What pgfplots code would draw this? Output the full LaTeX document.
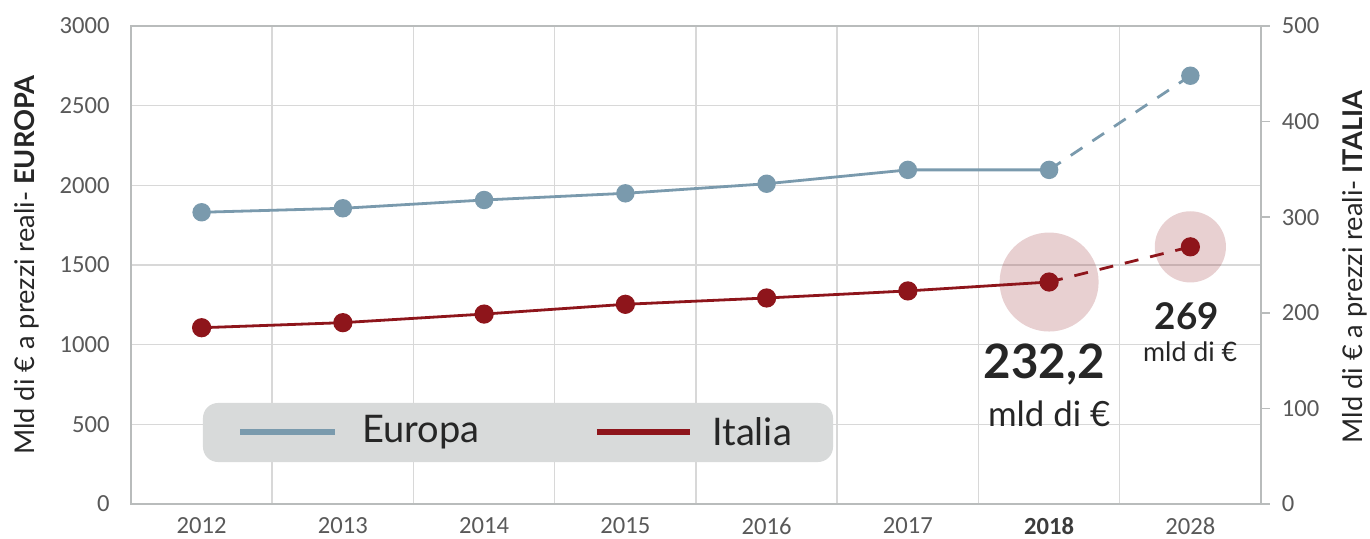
\documentclass[border=0pt]{standalone}
\usepackage{pgfplots}
\pgfplotsset{compat=1.18}
\usepackage{fontspec}
\setmainfont{Lato}
\newfontfamily\tickfont{Carlito}
\definecolor{europa}{RGB}{122,154,173}
\definecolor{italia}{RGB}{142,21,27}
\definecolor{gridc}{RGB}{216,216,216}
\definecolor{axisc}{RGB}{185,188,188}
\definecolor{tickc}{RGB}{89,89,89}
\definecolor{legbg}{RGB}{216,218,218}
\definecolor{txt}{RGB}{38,38,38}
\begin{document}
\begin{tikzpicture}
\path[use as bounding box] (-65.5pt,-17pt) rectangle (619.5pt,252pt);
\begin{axis}[
  at={(0,0)}, anchor=south west,
  scale only axis, width=565pt, height=239pt,
  xmin=-0.5, xmax=7.5, ymin=0, ymax=3000,
  xtick={0,...,7},
  xticklabels={2012,2013,2014,2015,2016,2017,{\textcolor{txt!90}{\bfseries 2018}},2028},
  minor xtick={0.5,1.5,...,6.5},
  ytick={0,500,...,3000},
  xminorgrids, ymajorgrids,
  grid style={draw=gridc, line width=0.75pt},
  minor grid style={draw=gridc, line width=0.75pt},
  axis line style={draw=axisc, line width=0.75pt},
  major tick length=0pt, minor tick length=0pt,
  /pgf/number format/assume math mode=true,
  /pgf/number format/1000 sep={},
  ticklabel style={font=\tickfont\fontsize{12.3}{14}\selectfont, text=tickc},
  yticklabel style={inner sep=0pt, xshift=-10.5pt, anchor=east},
  xticklabel style={inner sep=0pt, yshift=-6.5pt, anchor=north},
  ylabel={Mld di € a prezzi reali- \textbf{EUROPA}},
  ylabel style={at={(axis description cs:-0.092,0.5)}, anchor=center, rotate=0,
    font=\fontsize{13.6}{16}\selectfont, text=txt},
  clip=false,
]
\fill[legbg, rounded corners=7.5pt] (axis cs:0.0097,263.6) rectangle (axis cs:4.47,634);
\draw[europa, line width=3pt] (axis cs:0.272,451.9) -- (axis cs:0.944,451.9);
\node[anchor=west, inner sep=0pt, text=txt, font=\fontsize{19}{22}\selectfont] at (axis cs:1.135,451.9) {Europa};
\draw[italia, line width=3pt] (axis cs:2.799,451.9) -- (axis cs:3.458,451.9);
\node[anchor=west, inner sep=0pt, text=txt, font=\fontsize{19}{22}\selectfont] at (axis cs:3.613,451.9) {Italia};
\addplot[europa, line width=1.4pt, mark=*, mark size=3.9pt, mark options={europa}]
  coordinates {(0,1831)(1,1856)(2,1908)(3,1950)(4,2010)(5,2097)(6,2097)};
\addplot[europa, line width=1.4pt, dash pattern=on 7pt off 6pt, mark=*, mark size=3.9pt, mark indices={2}, mark options={solid, europa}]
  coordinates {(6,2097)(7,2688)};
\end{axis}
\begin{axis}[
  at={(0,0)}, anchor=south west,
  scale only axis, width=565pt, height=239pt,
  xmin=-0.5, xmax=7.5, ymin=0, ymax=500,
  axis x line=none,
  axis y line*=right,
  ytick={0,100,...,500},
  axis line style={draw=axisc, line width=0.75pt, -},
  tick style={draw=axisc, line width=0.75pt},
  tick align=outside, major tick length=4.5pt,
  /pgf/number format/assume math mode=true,
  ticklabel style={font=\tickfont\fontsize{12.3}{14}\selectfont, text=tickc},
  yticklabel style={inner sep=0pt, anchor=west, xshift=5.8pt},
  ylabel={Mld di € a prezzi reali- \textbf{ITALIA}},
  ylabel style={at={(axis description cs:1.0832,0.496)}, anchor=center, rotate=0,
    font=\fontsize{13.6}{16}\selectfont, text=txt},
  clip=false,
]
\addplot[only marks, color=italia, mark=*, mark size=24.75pt, mark options={draw opacity=0, fill=italia, fill opacity=0.2}]
  coordinates {(6,232.2)};
\addplot[only marks, color=italia, mark=*, mark size=17.8pt, mark options={draw opacity=0, fill=italia, fill opacity=0.2}]
  coordinates {(7,269)};
\addplot[italia, line width=1.4pt, mark=*, mark size=4.1pt, mark options={italia}]
  coordinates {(0,184.4)(1,189.7)(2,198.7)(3,208.9)(4,215.5)(5,222.9)(6,232.2)};
\addplot[italia, line width=1.4pt, dash pattern=on 7pt off 6pt, mark=*, mark size=4.1pt, mark indices={2}, mark options={solid, italia}]
  coordinates {(6,232.2)(7,269)};
\node[text=txt, font=\bfseries\fontsize{23.7}{27}\selectfont] at (axis cs:5.965,145.4) {232,2};
\node[text=txt, font=\fontsize{17.4}{20}\selectfont] at (axis cs:6.0,94.6) {mld di €};
\node[text=txt, font=\bfseries\fontsize{18.4}{21}\selectfont] at (axis cs:6.976,196.9) {269};
\node[text=txt, font=\fontsize{13.4}{16}\selectfont] at (axis cs:6.999,159) {mld di €};
\end{axis}
\end{tikzpicture}
\end{document}
